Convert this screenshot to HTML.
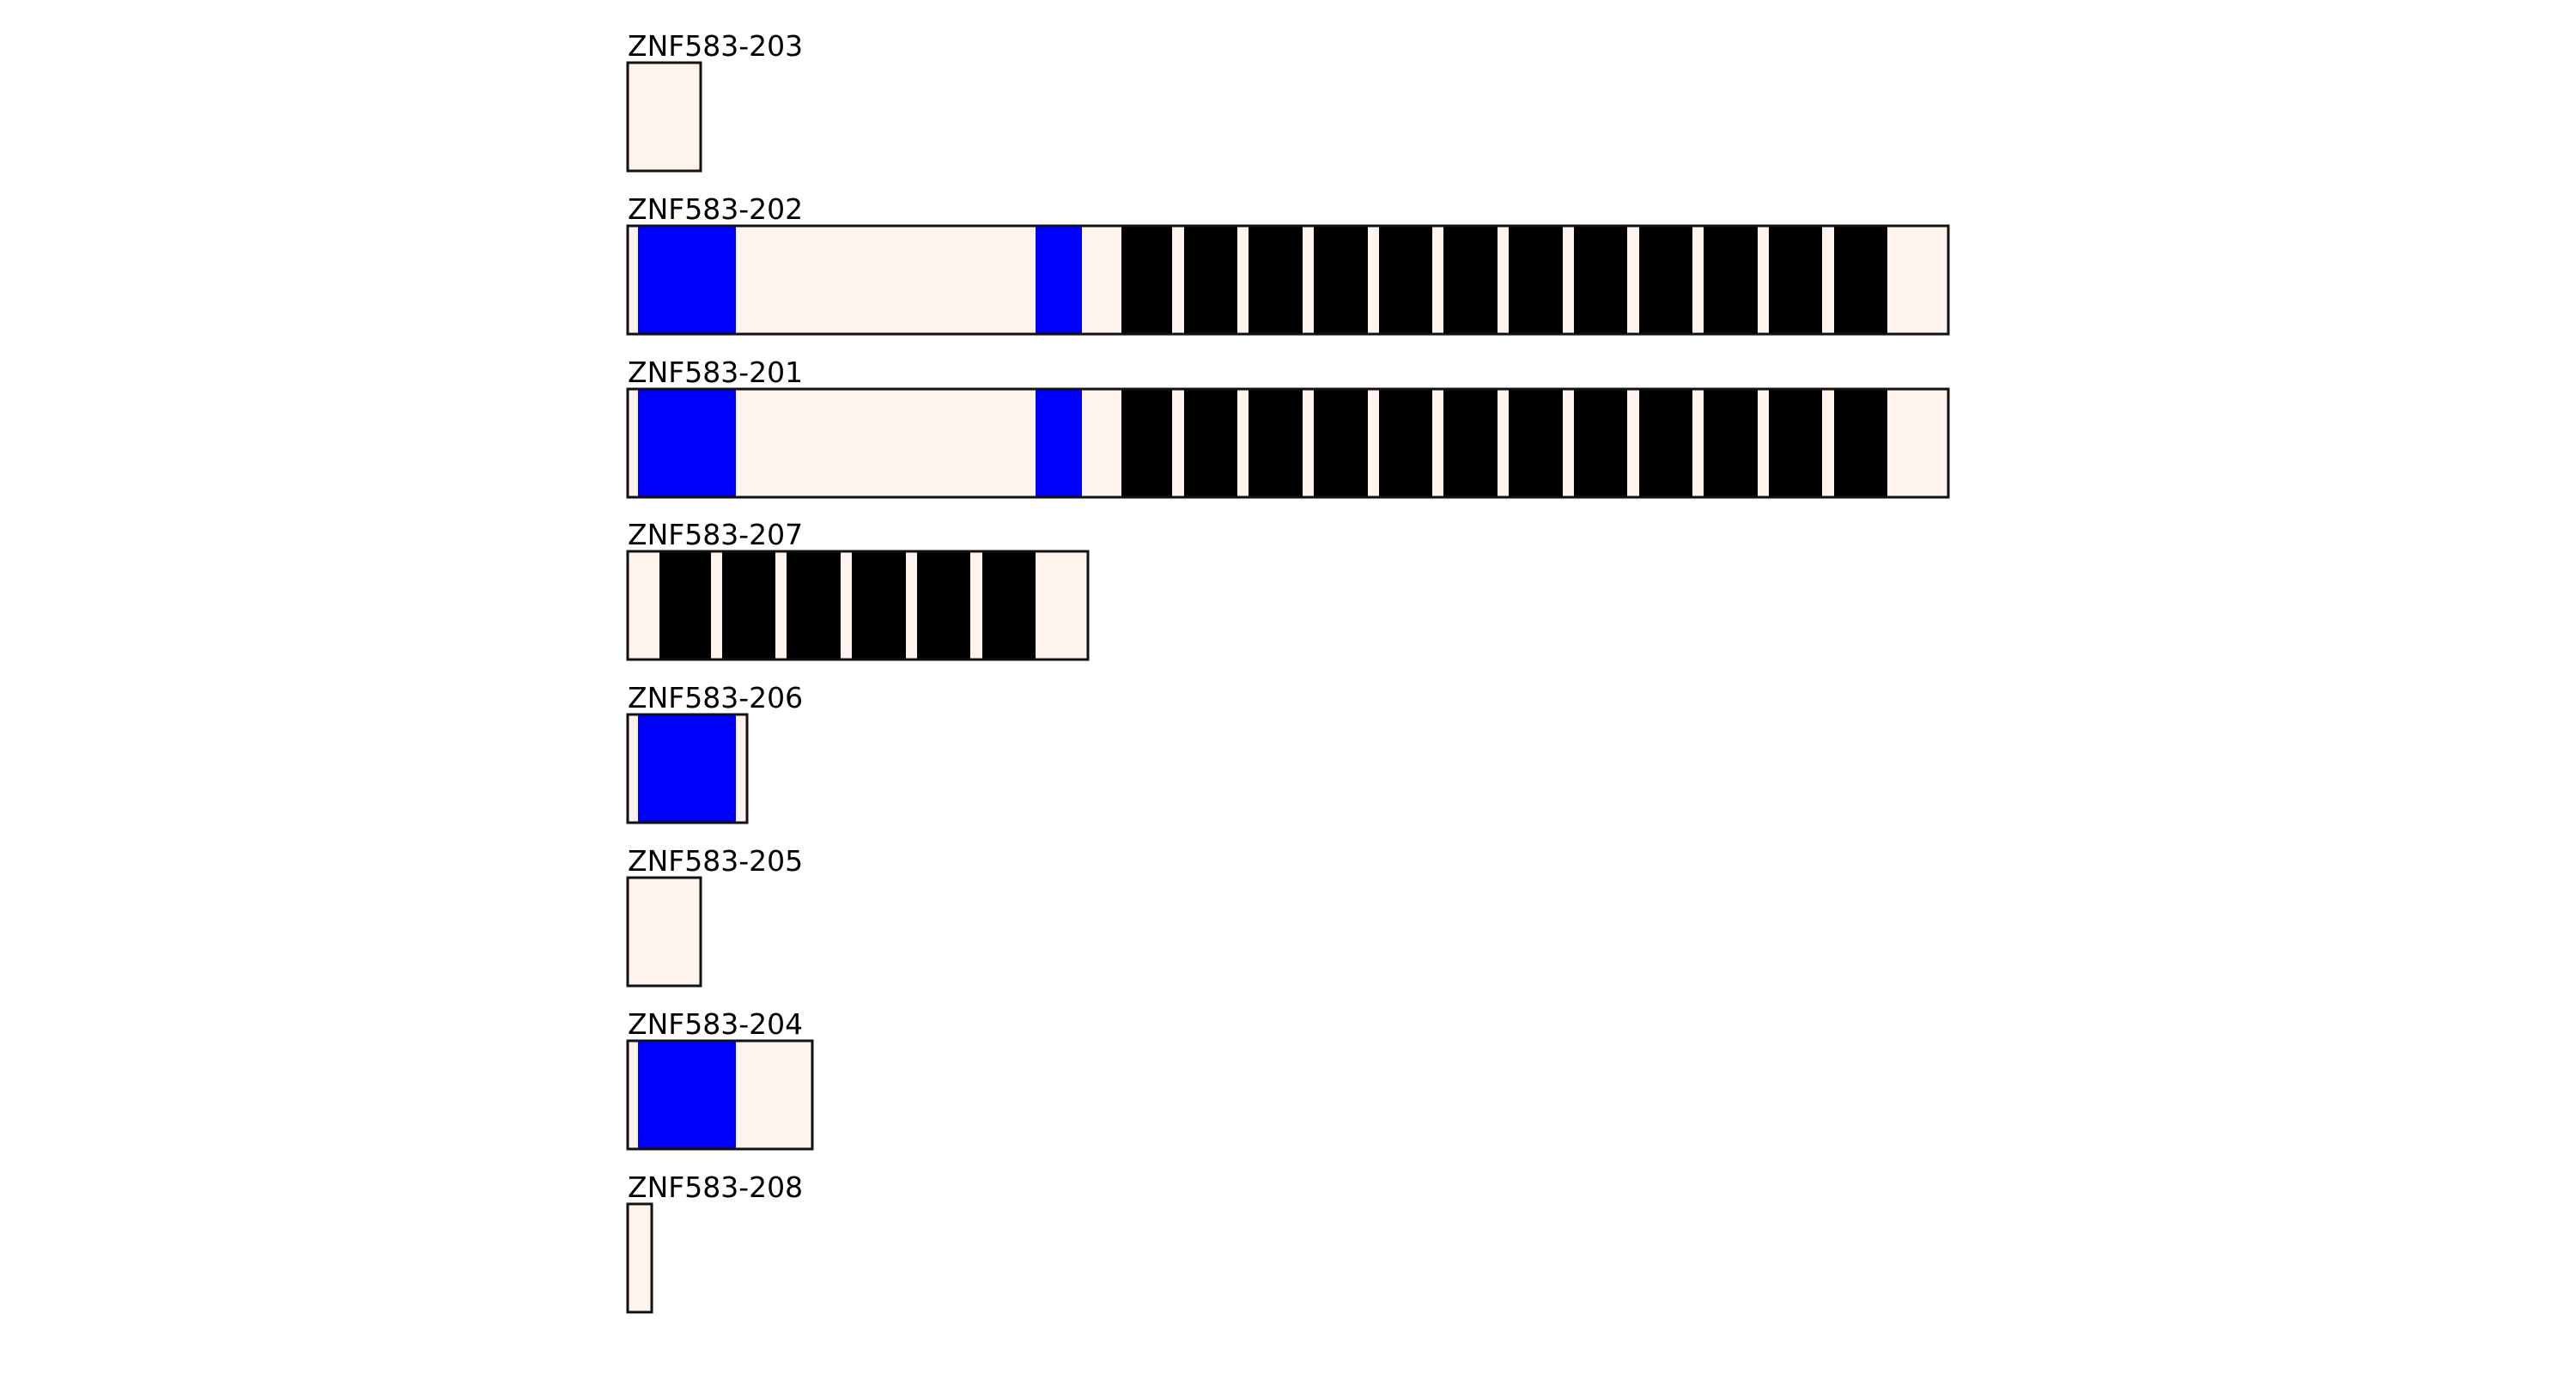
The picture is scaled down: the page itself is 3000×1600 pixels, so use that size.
<!DOCTYPE html>
<html><head><meta charset="utf-8"><style>html,body{margin:0;padding:0;background:#fff}svg{display:block}</style></head>
<body>
<svg xmlns="http://www.w3.org/2000/svg" width="3000" height="1600" viewBox="0 0 3000 1600">
<style>text{font-family:"DejaVu Sans","Liberation Sans",sans-serif;font-size:33px;fill:#000}</style>
<defs>
<g id="blk202">
<rect x="1306" y="0" width="59" height="126"/><rect x="1379" y="0" width="62" height="126"/>
<rect x="1454" y="0" width="63" height="126"/><rect x="1530" y="0" width="63" height="126"/>
<rect x="1606" y="0" width="62" height="126"/><rect x="1681" y="0" width="63" height="126"/>
<rect x="1757" y="0" width="63" height="126"/><rect x="1833" y="0" width="62" height="126"/>
<rect x="1909" y="0" width="62" height="126"/><rect x="1984" y="0" width="63" height="126"/>
<rect x="2060" y="0" width="62" height="126"/><rect x="2136" y="0" width="62" height="126"/>
</g>
</defs>

<text x="731" y="65">ZNF583-203</text>
<rect x="731" y="73" width="85" height="126" fill="#fff3ee" stroke="#111" stroke-width="3"/>

<text x="731" y="255">ZNF583-202</text>
<g transform="translate(0,263)">
<rect x="731" y="0" width="1538" height="126" fill="#fff3ee"/>
<rect x="743" y="0" width="114" height="126" fill="#0000ff"/>
<rect x="1206" y="0" width="54" height="126" fill="#0000ff"/>
<use href="#blk202"/>
<rect x="731" y="0" width="1538" height="126" fill="none" stroke="#111" stroke-width="3"/>
</g>

<text x="731" y="445">ZNF583-201</text>
<g transform="translate(0,453)">
<rect x="731" y="0" width="1538" height="126" fill="#fff3ee"/>
<rect x="743" y="0" width="114" height="126" fill="#0000ff"/>
<rect x="1206" y="0" width="54" height="126" fill="#0000ff"/>
<use href="#blk202"/>
<rect x="731" y="0" width="1538" height="126" fill="none" stroke="#111" stroke-width="3"/>
</g>

<text x="731" y="634">ZNF583-207</text>
<g transform="translate(0,642)">
<rect x="731" y="0" width="536" height="126" fill="#fff3ee"/>
<rect x="768" y="0" width="60" height="126"/>
<rect x="841" y="0" width="62" height="126"/>
<rect x="916" y="0" width="63" height="126"/>
<rect x="992" y="0" width="63" height="126"/>
<rect x="1068" y="0" width="62" height="126"/>
<rect x="1144" y="0" width="62" height="126"/>
<rect x="731" y="0" width="536" height="126" fill="none" stroke="#111" stroke-width="3"/>
</g>

<text x="731" y="824">ZNF583-206</text>
<g transform="translate(0,832)">
<rect x="731" y="0" width="139" height="126" fill="#fff3ee"/>
<rect x="743" y="0" width="114" height="126" fill="#0000ff"/>
<rect x="731" y="0" width="139" height="126" fill="none" stroke="#111" stroke-width="3"/>
</g>

<text x="731" y="1014">ZNF583-205</text>
<rect x="731" y="1022" width="85" height="126" fill="#fff3ee" stroke="#111" stroke-width="3"/>

<text x="731" y="1204">ZNF583-204</text>
<g transform="translate(0,1212)">
<rect x="731" y="0" width="215" height="126" fill="#fff3ee"/>
<rect x="743" y="0" width="114" height="126" fill="#0000ff"/>
<rect x="731" y="0" width="215" height="126" fill="none" stroke="#111" stroke-width="3"/>
</g>

<text x="731" y="1394">ZNF583-208</text>
<rect x="731" y="1402" width="28" height="126" fill="#fff3ee" stroke="#111" stroke-width="3"/>
</svg>
</body></html>
